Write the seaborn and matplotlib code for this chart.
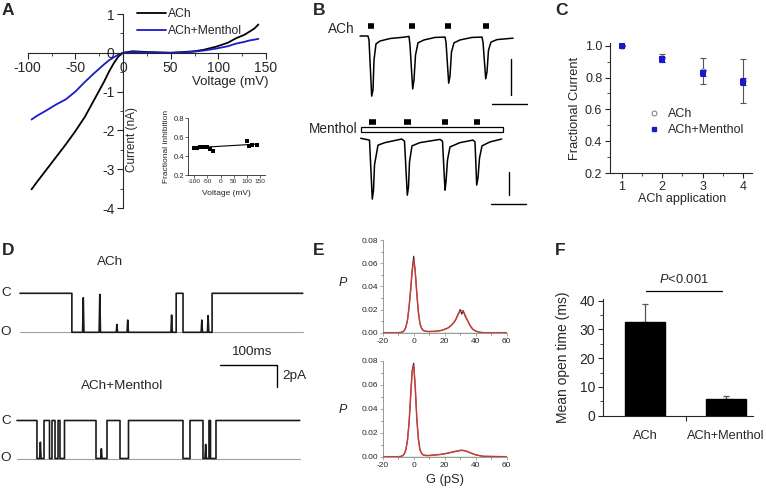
import matplotlib
matplotlib.use('Agg')
import matplotlib.pyplot as plt
from matplotlib.lines import Line2D
from matplotlib.patches import Rectangle
from matplotlib.ticker import MultipleLocator, FormatStrFormatter
import seaborn as sns

sns.set_style('ticks')
plt.rcParams['font.family'] = ['Liberation Sans', 'DejaVu Sans']
plt.rcParams['mathtext.fontset'] = 'custom'
plt.rcParams['mathtext.it'] = 'Liberation Sans:italic'
plt.rcParams['mathtext.rm'] = 'Liberation Sans'
plt.rcParams['axes.linewidth'] = 0.8
plt.rcParams['axes.unicode_minus'] = False

# ---------------- datos ----------------
# A: curvas I-V (mV, nA)
iv_volt = [-96, -90, -80, -70, -60, -50, -40, -30, -20, -15, -10, -5, 0, 10, 25, 50, 63, 75, 85, 98,
           110, 119, 127, 133, 138, 142]
iv_ach = [-3.52, -3.32, -3.0, -2.68, -2.36, -2.02, -1.65, -1.2, -0.75, -0.5, -0.28, -0.1, 0.0, 0.04, 0.02,
          0.0, 0.02, 0.04, 0.08, 0.16, 0.26, 0.38, 0.46, 0.55, 0.63, 0.73]
iv_menthol = [-1.72, -1.62, -1.48, -1.33, -1.2, -1.0, -0.75, -0.52, -0.3, -0.2, -0.12, -0.05, 0.0, 0.02, 0.01,
              0.0, 0.01, 0.03, 0.06, 0.11, 0.17, 0.24, 0.28, 0.32, 0.34, 0.36]
# A inset: inhibicion fraccional
ins_volt = [-100, -90, -80, -70, -60, -50, -40, -30, 100, 110, 120, 140]
ins_frac = [0.49, 0.49, 0.495, 0.50, 0.50, 0.50, 0.48, 0.45, 0.56, 0.51, 0.52, 0.52]
ins_fit_volt = [-100, 145]
ins_fit_frac = [0.488, 0.528]

# B: registros de corriente (s, uA)
ach_t = [0, 8, 9, 11.7, 13, 14, 16, 20, 30, 45, 49, 50, 52.7, 54, 55.5, 58, 64, 75, 85, 86, 88.7, 90,
         91.5, 94, 100, 112, 122, 123, 125.7, 127, 128.5, 131, 137, 153]
ach_i = [0, 0, -0.11, -1.67, -1.5, -0.67, -0.22, -0.14, -0.07, -0.03, -0.01, -0.25, -1.47, -1.22, -0.53,
         -0.19, -0.11, -0.04, -0.03, -0.17, -1.31, -1.11, -0.44, -0.19, -0.11, -0.04, -0.03, -0.17, -1.19,
         -1.0, -0.39, -0.17, -0.10, -0.06]
men_t = [0, 8.8, 11.6, 12.8, 13.8, 17.3, 24.3, 41.0, 43.8, 46.6, 47.8, 48.8, 51.3, 59.3, 79.3, 81.8,
         84.3, 85.3, 86.8, 89.3, 99.3, 112.3, 114.3, 116.0, 117.3, 118.8, 121.3, 129.3, 141.0]
men_i = [0, -0.05, -1.69, -1.44, -0.74, -0.19, -0.12, -0.02, -0.08, -1.58, -1.35, -0.66, -0.21, -0.12,
         -0.03, -0.08, -1.44, -1.21, -0.6, -0.24, -0.12, -0.05, -0.1, -1.3, -1.1, -0.55, -0.21, -0.1, -0.02]
ach_pulses = [11, 51.7, 88, 125.7]
men_pulses = [11.6, 46.6, 84.3, 116]
men_perfusion = [0, 142]

# C: corriente fraccional
applications = [1, 2, 3, 4]
frac_ach = [1.0, 0.92, 0.84, 0.777]
frac_ach_err = [0.005, 0.025, 0.08, 0.138]
frac_men = [1.0, 0.915, 0.83, 0.775]
frac_men_err = [0.005, 0.015, 0.02, 0.02]

# D: canal unico (ms, pA)
ch_amp = 3.5
ach_open = [(91, 274), (286, 337)]
ach_flick = [(111, -0.4), (140, -0.1), (170, -2.8), (189, -2.4), (266, -1.95), (319, -2.4), (330, -2.0)]
men_open = [(35, 47.4), (57, 61.4), (66.7, 72), (75.4, 83.3), (138.6, 157.9), (180.7, 195.6),
            (291.2, 303.5), (326.3, 336.8), (339.5, 349.1)]
men_flick = [(41, -2.0), (148, -2.6), (331, -2.2)]

# E: histogramas de conductancia
g_ps = [-20, -10, -8, -7, -6, -5, -4, -3, -2, -1, 0, 1, 2, 3, 4, 5, 6, 8, 10, 14,
        18, 20, 22, 24, 26, 27, 28, 29, 30, 31, 32, 33, 34, 35, 36, 38, 40, 42, 45, 60]
p_ach = [0, 0, 0.0003, 0.0008, 0.002, 0.005, 0.011, 0.022, 0.036, 0.054, 0.066, 0.053, 0.034, 0.018,
         0.008, 0.004, 0.002, 0.0012, 0.001, 0.0012, 0.002, 0.003, 0.004, 0.006, 0.009, 0.011, 0.014,
         0.017, 0.020, 0.016, 0.019, 0.015, 0.012, 0.010, 0.007, 0.003, 0.0015, 0.0005, 0, 0]
fit_ach = [0, 0, 0.0003, 0.0008, 0.002, 0.005, 0.011, 0.022, 0.037, 0.053, 0.063, 0.052, 0.034, 0.018,
           0.008, 0.004, 0.002, 0.0012, 0.001, 0.0012, 0.002, 0.003, 0.004, 0.006, 0.009, 0.011, 0.0135,
           0.0165, 0.0185, 0.0192, 0.018, 0.0158, 0.0128, 0.0098, 0.007, 0.0032, 0.0013, 0.0004, 0, 0]
p_men = [0, 0, 0.0003, 0.001, 0.0025, 0.006, 0.014, 0.028, 0.05, 0.072, 0.078, 0.058, 0.032, 0.015,
         0.006, 0.003, 0.0015, 0.001, 0.001, 0.0015, 0.002, 0.0025, 0.003, 0.0035, 0.004, 0.0045, 0.0045,
         0.005, 0.005, 0.0055, 0.005, 0.005, 0.0045, 0.004, 0.0035, 0.0025, 0.0015, 0.001, 0.0003, 0]
fit_men = [0, 0, 0.0003, 0.001, 0.0025, 0.006, 0.014, 0.028, 0.05, 0.07, 0.076, 0.058, 0.032, 0.015,
           0.006, 0.003, 0.0015, 0.001, 0.001, 0.0014, 0.002, 0.0024, 0.003, 0.0036, 0.0042, 0.0045,
           0.0048, 0.005, 0.0052, 0.0053, 0.0052, 0.005, 0.0046, 0.0042, 0.0036, 0.0026, 0.0016, 0.001,
           0.0003, 0]
baseline_ps = [-8, 40]

# F: tiempo medio de apertura
f_labels = ['ACh', 'ACh+Menthol']
open_time = [32.5, 5.8]
open_err = [6.5, 1.1]

# ---------------- figura ----------------
W, H = 766, 490
fig = plt.figure(figsize=(W / 100, H / 100), dpi=100)


def add_ax(x0, y0, x1, y1):
    # ejes a partir de una caja en pixeles
    return fig.add_axes([x0 / W, 1 - y1 / H, (x1 - x0) / W, (y1 - y0) / H])


def lim(pa, va, pb, vb, p0, p1):
    k = (vb - va) / (pb - pa)
    return va + k * (p0 - pa), va + k * (p1 - pa)


def txt(x, y, s, **kw):
    kw.setdefault('ha', 'center')
    kw.setdefault('va', 'center')
    fig.text(x / W, 1 - y / H, s, **kw)


def line(ax, x, y, **kw):
    sns.lineplot(x=x, y=y, ax=ax, estimator=None, sort=False, **kw)


# letras de panel
for lab, (x, y) in zip('ABCDEF', [(2, 3), (313, 3), (555, 3), (2, 243), (313, 243), (555, 243)]):
    txt(x, y, lab, ha='left', va='top', fontsize=12.5, fontweight='bold')

# ---- A ----
axA = add_ax(20, 8, 275, 215)
line(axA, iv_volt, iv_ach, color='black', lw=1.3, label='ACh')
line(axA, iv_volt, iv_menthol, color='#1a1acc', lw=1.3, label='ACh+Menthol')
axA.set_xlim(*lim(27.7, -100, 266, 150, 20, 275))
axA.set_ylim(*lim(14, 1, 208, -4, 215, 8))
axA.spines['left'].set_position(('data', 0))
axA.spines['bottom'].set_position(('data', 0))
axA.spines['left'].set_bounds(-4, 1)
axA.spines['bottom'].set_bounds(-100, 150)
for s in ['top', 'right']:
    axA.spines[s].set_visible(False)
axA.set_xticks([-100, -50, 0, 50, 100, 150])
axA.set_yticks([-4, -3, -2, -1, 0, 1])
axA.xaxis.set_minor_locator(MultipleLocator(25))
axA.yaxis.set_minor_locator(MultipleLocator(0.5))
axA.tick_params(labelsize=10, length=4, width=0.8, pad=2)
axA.tick_params(which='minor', length=2, width=0.6)
axA.legend(loc='upper left', bbox_to_anchor=(137 / W, 1 - 8 / H), bbox_transform=fig.transFigure,
           frameon=False, fontsize=8.7, handlelength=2.4, handletextpad=0.2, borderpad=0,
           borderaxespad=0, labelspacing=0.4)
txt(230, 82, 'Voltage (mV)', fontsize=9.5)
txt(132, 140, 'Current (nA)', fontsize=8.5, rotation=90)

# inset
axI = add_ax(188.3, 116.4, 265, 175)
sns.scatterplot(x=ins_volt, y=ins_frac, ax=axI, color='black', marker='s', s=5, edgecolor='black', linewidth=0)
line(axI, ins_fit_volt, ins_fit_frac, color='black', lw=0.8)
axI.set_xlim(*lim(194.3, -100, 260, 150, 188.3, 265))
axI.set_ylim(*lim(118.3, 0.8, 175, 0.2, 175, 116.4))
for s in ['top', 'right']:
    axI.spines[s].set_visible(False)
axI.spines['left'].set_bounds(0.2, 0.8)
axI.spines['left'].set_linewidth(0.6)
axI.spines['bottom'].set_linewidth(0.6)
axI.set_xticks([-100, -50, 0, 50, 100, 150])
axI.set_yticks([0.2, 0.4, 0.6, 0.8])
axI.yaxis.set_major_formatter(FormatStrFormatter('%.1f'))
axI.tick_params(axis='x', labelsize=4.6, length=2, width=0.5, pad=1)
axI.tick_params(axis='y', labelsize=5.5, length=2, width=0.5, pad=1)
txt(226, 193, 'Voltage (mV)', fontsize=6)
txt(166, 146, 'Fractional inhibition', fontsize=6, rotation=90)

# ---- B ----
axB1 = add_ax(355, 18, 530, 110)
line(axB1, ach_t, ach_i, color='black', lw=1.1)
axB1.set_xlim(*lim(360, 0, 361, 1, 355, 530))
axB1.set_ylim(*lim(36, 0, 72, -1, 110, 18))
for p in ach_pulses:
    axB1.plot([p - 3.2, p + 3.2], [0.28, 0.28], color='black', lw=4, solid_capstyle='butt')
axB1.plot([150.7, 150.7], [-0.64, -1.64], color='black', lw=1)
axB1.plot([131.7, 166.7], [-1.89, -1.89], color='black', lw=1)
axB1.axis('off')
txt(355, 29, 'ACh', ha='right', fontsize=9.8)

axB2 = add_ax(355, 112, 530, 212)
line(axB2, men_t, men_i, color='black', lw=1.1)
axB2.set_xlim(*lim(360.7, 0, 361.7, 1, 355, 530))
axB2.set_ylim(*lim(138.3, 0, 174.3, -1, 212, 112))
axB2.add_patch(Rectangle((men_perfusion[0], 0.167), men_perfusion[1] - men_perfusion[0], 0.139,
                         facecolor='white', edgecolor='black', lw=0.9))
for p in men_pulses:
    axB2.plot([p - 3.2, p + 3.2], [0.461, 0.461], color='black', lw=4, solid_capstyle='butt')
axB2.plot([148.3, 148.3], [-0.93, -1.575], color='black', lw=1)
axB2.plot([130, 165.3], [-1.825, -1.825], color='black', lw=1)
axB2.axis('off')
txt(357, 129, 'Menthol', ha='right', fontsize=9.8)

# ---- C ----
axC = add_ax(610, 43, 752, 173)
axC.errorbar(applications, frac_ach, yerr=frac_ach_err, fmt='none', ecolor='#555555', elinewidth=0.8,
             capsize=2, capthick=0.8)
sns.scatterplot(x=applications, y=frac_ach, ax=axC, marker='o', s=14, facecolor='white',
                edgecolor='#777777', linewidth=0.7, zorder=3)
axC.errorbar(applications, frac_men, yerr=frac_men_err, fmt='none', ecolor='#1a1acc', elinewidth=0.8,
             capsize=2, capthick=0.8, zorder=4)
sns.scatterplot(x=applications, y=frac_men, ax=axC, marker='s', s=16, color='#1a1acc',
                edgecolor='#1a1acc', linewidth=0, zorder=5)
axC.set_xlim(*lim(621.7, 1, 743, 4, 610, 752))
axC.set_ylim(*lim(45.7, 1.0, 173, 0.2, 173, 43))
sns.despine(ax=axC)
axC.set_xticks(applications)
axC.set_yticks([0.2, 0.4, 0.6, 0.8, 1.0])
axC.yaxis.set_major_formatter(FormatStrFormatter('%.1f'))
axC.yaxis.set_minor_locator(MultipleLocator(0.1))
axC.xaxis.set_minor_locator(MultipleLocator(0.5))
axC.tick_params(labelsize=9, length=3.5, width=0.8, pad=2)
axC.tick_params(which='minor', length=2, width=0.6)
hC = [Line2D([], [], ls='none', marker='o', ms=3.5, mfc='white', mec='#777777', mew=0.7),
      Line2D([], [], ls='none', marker='s', ms=3.5, color='#1a1acc')]
axC.legend(hC, ['ACh', 'ACh+Menthol'], loc='upper left', bbox_to_anchor=(648 / W, 1 - 108 / H),
           bbox_transform=fig.transFigure, frameon=False, fontsize=9, handlelength=1.0,
           handletextpad=0.6, borderpad=0, borderaxespad=0, labelspacing=0.35)
txt(682, 199, 'ACh application', fontsize=9)
txt(575, 108, 'Fractional Current', fontsize=9.3, rotation=90)


# ---- D ----
def trace(t_end, openings, flicks):
    t, y = [0], [0]
    for a, b in openings:
        t += [a, a]
        y += [0, -ch_amp]
        for tp, lvl in flicks:
            if a < tp < b:
                t += [tp - 1.2, tp, tp + 1.2]
                y += [-ch_amp, lvl, -ch_amp]
        t += [b, b]
        y += [-ch_amp, 0]
    t.append(t_end)
    y.append(0)
    return t, y


axD1 = add_ax(15, 278, 310, 345)
axD1.set_xlim(*lim(20, 0, 77, 100, 15, 310))
axD1.set_ylim(*lim(293.3, 0, 332.3, -ch_amp, 345, 278))
axD1.plot([0, 496], [-ch_amp, -ch_amp], color='#a0a0a0', lw=0.8)
t1, y1 = trace(496, ach_open, ach_flick)
line(axD1, t1, y1, color='#1a1a1a', lw=1.2)
# barra de escala 100 ms / 2 pA
axD1.plot([351, 451, 451], [-6.44, -6.44, -8.44], color='black', lw=1, clip_on=False)
axD1.axis('off')

axD2 = add_ax(15, 408, 310, 472)
axD2.set_xlim(*lim(17, 0, 74, 100, 15, 310))
axD2.set_ylim(*lim(420.5, 0, 458.5, -ch_amp, 472, 408))
axD2.plot([0, 496], [-ch_amp, -ch_amp], color='#a0a0a0', lw=0.8)
t2, y2 = trace(496, men_open, men_flick)
line(axD2, t2, y2, color='#1a1a1a', lw=1.2)
axD2.axis('off')

txt(110, 262, 'ACh', fontsize=9.7)
txt(122, 386, 'ACh+Menthol', fontsize=9.7)
txt(251, 352, '100ms', fontsize=9.7)
txt(282, 376, '2pA', ha='left', fontsize=9.7)
for yy, s in [(293, 'C'), (332, 'O'), (421, 'C'), (458, 'O')]:
    txt(6, yy, s, fontsize=9.7)

# ---- E ----
for box, p, fit in [((382.7, 240, 506.7, 332.7), p_ach, fit_ach),
                    ((382.7, 360.7, 506.7, 456.7), p_men, fit_men)]:
    axE = add_ax(*box)
    axE.plot(baseline_ps, [0, 0], color='#4caf50', lw=1.0, zorder=1)
    line(axE, g_ps, p, color='#222222', lw=0.8, zorder=2)
    line(axE, g_ps, fit, color='#e0403c', lw=1.1, alpha=0.85, zorder=3)
    axE.set_xlim(-20, 60)
    axE.set_ylim(0, 0.08)
    sns.despine(ax=axE)
    axE.spines['left'].set_color('#888888')
    axE.spines['bottom'].set_color('#888888')
    axE.spines['left'].set_linewidth(0.6)
    axE.spines['bottom'].set_linewidth(0.6)
    axE.set_xticks([-20, 0, 20, 40, 60])
    axE.set_yticks([0, 0.02, 0.04, 0.06, 0.08])
    axE.yaxis.set_major_formatter(FormatStrFormatter('%.2f'))
    axE.xaxis.set_minor_locator(MultipleLocator(10))
    axE.yaxis.set_minor_locator(MultipleLocator(0.01))
    axE.tick_params(labelsize=6, length=2.5, width=0.5, pad=1, color='#888888')
    axE.tick_params(which='minor', length=1.5, width=0.4)
txt(343, 283, 'P', fontsize=9, style='italic')
txt(343, 410, 'P', fontsize=9, style='italic')
txt(445, 480, 'G (pS)', fontsize=9.3)

# ---- F ----
axF = add_ax(603, 299.3, 753, 415.7)
sns.barplot(x=[0, 1], y=open_time, ax=axF, color='black', width=0.49, errorbar=None, native_scale=True,
            edgecolor='black', saturation=1)
axF.errorbar([0, 1], open_time, yerr=[[0, 0], open_err], fmt='none', ecolor='#555555', elinewidth=0.9,
             capsize=2, capthick=0.9, zorder=0)
axF.set_xlim(*lim(645, 0, 726, 1, 603, 753))
axF.set_ylim(*lim(415.7, 0, 300.7, 40, 415.7, 299.3))
sns.despine(ax=axF)
axF.set_xticks([0.5], [''])
axF.set_xticks([0, 1], f_labels, minor=True)
axF.set_yticks([0, 10, 20, 30, 40])
axF.yaxis.set_minor_locator(MultipleLocator(5))
axF.tick_params(labelsize=10, length=3.5, width=0.8, pad=2)
axF.tick_params(axis='y', which='minor', length=2, width=0.6)
axF.tick_params(axis='x', which='minor', length=0, pad=10, labelsize=9.2)
axF.plot([0.01, 0.95], [43.4, 43.4], color='black', lw=0.9, clip_on=False)
axF.text(0.48, 47.5, '$P$<0.001', ha='center', va='center', fontsize=9.3, clip_on=False)
txt(563, 357, 'Mean open time (ms)', fontsize=10, rotation=90)

fig.savefig('out.png', dpi=100)
